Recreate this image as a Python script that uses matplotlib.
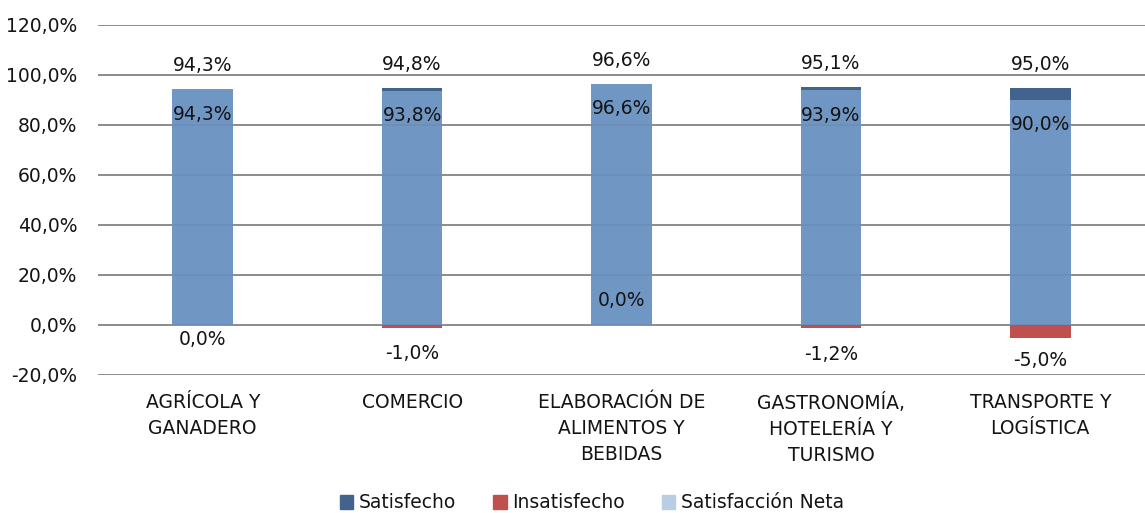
import matplotlib
matplotlib.use("Agg")
import matplotlib.pyplot as plt
import numpy as np
from matplotlib.patches import Patch

categories = ["AGRÍCOLA Y\nGANADERO", "COMERCIO", "ELABORACIÓN DE\nALIMENTOS Y\nBEBIDAS",
              "GASTRONOMÍA,\nHOTELERÍA Y\nTURISMO", "TRANSPORTE Y\nLOGÍSTICA"]
satisfecho = [94.3, 94.8, 96.6, 95.1, 95.0]
insatisfecho = [0.0, -1.0, 0.0, -1.2, -5.0]
neta = [94.3, 93.8, 96.6, 93.9, 90.0]
yticks = [-20, 0, 20, 40, 60, 80, 100, 120]

# label offsets (points) for Insatisfecho labels
ins_offsets = [-10.5, -19, 18, -19, -16.5]

c_sat = "#43638f"
c_ins = "#c0504d"
c_net = "#7096c4"
c_net_leg = "#b9cde5"
fs = 13.5
tc = "#141414"

plt.rcParams['font.family'] = ['DejaVu Sans']
fig = plt.figure(figsize=(11.45, 5.13), dpi=100)
ax = fig.add_axes([98/1145, 1-375/513, 1-98/1145, 350/513])

x = np.arange(len(categories))
w = 0.29

ax.bar(x, satisfecho, w, color=c_sat, zorder=2, label="Satisfecho")
ax.bar(x, insatisfecho, w, color=c_ins, zorder=2, label="Insatisfecho")
ax.bar(x, neta, w, color=c_net, zorder=3, label="Satisfacción Neta")

ax.set_ylim(-20, 120)
ax.set_xlim(-0.5, len(categories) - 0.5)
ax.set_yticks(yticks)
ax.set_yticklabels([f"{v:.1f}%".replace(".", ",") for v in yticks], fontsize=fs, color=tc)
ax.set_xticks(x)
ax.set_xticklabels(categories, fontsize=fs, color=tc, linespacing=1.45)
ax.tick_params(axis='y', length=0, pad=15)
ax.tick_params(axis='x', length=0, pad=13)
for v in yticks:
    ax.axhline(v, color="#959595", lw=1.4, zorder=1)
    ax.axhline(v, color="#5a5a5a", lw=1.4, alpha=0.12, zorder=4)
for s in ax.spines.values():
    s.set_visible(False)

def fmt(v):
    return f"{v:.1f}%".replace(".", ",")

for i in range(len(categories)):
    ax.annotate(fmt(satisfecho[i]), (x[i], satisfecho[i]), xytext=(0, 10), textcoords="offset points",
                ha="center", va="bottom", fontsize=fs, color=tc, zorder=5)
    ax.annotate(fmt(neta[i]), (x[i], neta[i]), xytext=(0, -18), textcoords="offset points",
                ha="center", va="center", fontsize=fs, color=tc, zorder=5)
    ax.annotate(fmt(insatisfecho[i]), (x[i], insatisfecho[i]), xytext=(0, ins_offsets[i]), textcoords="offset points",
                ha="center", va="center", fontsize=fs, color=tc, zorder=5)

handles = [Patch(color=c_sat), Patch(color=c_ins), Patch(color=c_net_leg)]
fig.legend(handles, ["Satisfecho", "Insatisfecho", "Satisfacción Neta"], loc="center",
           bbox_to_anchor=(592/1145, 1-503/513), ncol=3, frameon=False, fontsize=fs,
           handlelength=0.7, handleheight=0.7, handletextpad=0.3, columnspacing=2.0,
           labelcolor=tc)

fig.savefig("out.png", dpi=100)
